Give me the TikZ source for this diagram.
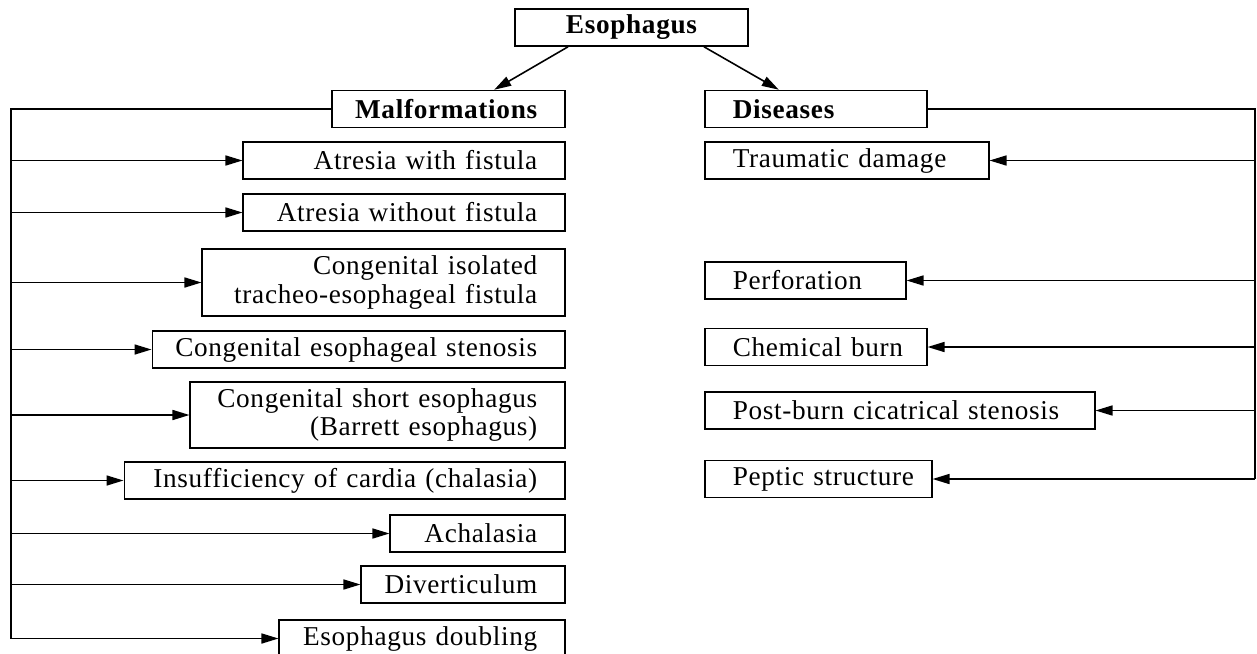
\documentclass[tikz,border=0pt]{standalone}
\usepackage{fontspec}
\setmainfont{Liberation Serif}[LetterSpace=2.5,WordSpace=1.6]
\usetikzlibrary{arrows.meta, positioning}
\hyphenpenalty=10000
\exhyphenpenalty=10000
\tikzset{
  head/.style={draw, line width=0.9pt, minimum height=0.74cm, inner sep=0pt,
    font=\fontsize{15.5}{16}\selectfont\bfseries},
  leftbox/.style={draw, line width=0.9pt, anchor=east, align=right, inner xsep=0.41cm,
    inner ysep=0.05cm, minimum height=0.74cm, font=\fontsize{15.5}{16}\selectfont,
    execute at begin node={\rightskip=0.15cm}},
  rightbox/.style={draw, line width=0.9pt, anchor=west, align=left, inner xsep=0.41cm,
    inner ysep=0.05cm, minimum height=0.74cm, font=\fontsize{15.5}{16}\selectfont,
    execute at begin node={\leftskip=0.15cm}},
  bold/.style={font=\fontsize{15.5}{16}\selectfont\bfseries},
  line/.style={line width=0.9pt},
  arrow/.style={-{Triangle[length=0.34cm, width=0.2cm]}, line width=0.9pt}
}

\begin{document}
\begin{tikzpicture}[x=0.02cm, y=-0.02cm]
  \useasboundingbox (0,0) rectangle (1257,653);

  % === Root ===
  \node[head, minimum width=4.66cm] (eso) at (631.5,27.5) {Esophagus};

  % === Malformations ===
  \node[leftbox, bold, text width=3.84cm] (malf) at (566,109) {Malformations};
  \node[leftbox, text width=5.62cm] (atrf) at (566,160.5) {Atresia with fistula};
  \node[leftbox, text width=5.62cm] (atrn) at (566,212.5) {Atresia without fistula};
  \node[leftbox, text width=6.44cm, minimum height=1.34cm] (tef) at (566,282.5)
    {Congenital isolated\\tracheo-esophageal fistula};
  \node[leftbox, text width=7.44cm] (sten) at (566,349.5) {Congenital esophageal stenosis};
  \node[leftbox, text width=6.68cm, minimum height=1.32cm] (short) at (566,415)
    {Congenital short esophagus\\(Barrett esophagus)};
  \node[leftbox, text width=8.00cm] (insuf) at (566,480.5) {Insufficiency of cardia (chalasia)};
  \node[leftbox, text width=2.68cm] (achal) at (566,533.5) {Achalasia};
  \node[leftbox, text width=3.26cm] (divert) at (566,584.5) {Diverticulum};
  \node[leftbox, text width=4.90cm] (doubl) at (566,638.5) {Esophagus doubling};

  \coordinate (ltop) at (11,109);
  \coordinate (lbot) at (11,638.5);
  \draw[line] (malf) -- (ltop) -- (lbot);
  \foreach \n in {atrf,atrn,tef,sten,short,insuf,achal,divert,doubl}
    \draw[arrow] (ltop |- \n) -- (\n);

  % === Diseases ===
  \node[rightbox, bold, text width=3.62cm] (dis) at (704,109) {Diseases};
  \node[rightbox, text width=4.86cm] (trauma) at (704,160.5) {Traumatic damage};
  \node[rightbox, text width=3.20cm] (perf) at (704,280.5) {Perforation};
  \node[rightbox, text width=3.62cm] (chem) at (704,347) {Chemical burn};
  \node[rightbox, text width=6.98cm] (postburn) at (704,410.5) {Post-burn cicatrical stenosis};
  \node[rightbox, text width=3.72cm] (peptic) at (704,479) {Peptic~structure};

  \coordinate (rtop) at (1255,109);
  \coordinate (rbot) at (1255,479);
  \draw[line] (dis) -- (rtop) -- (rbot);
  \foreach \n in {trauma,perf,chem,postburn,peptic}
    \draw[arrow] (rtop |- \n) -- (\n);

  % root to both branches
  \draw[arrow] ([xshift=-1.27cm]eso.south) -- ([xshift=0.91cm]malf.north);
  \draw[arrow] ([xshift=1.45cm]eso.south) -- ([xshift=-0.74cm]dis.north);
\end{tikzpicture}
\end{document}
